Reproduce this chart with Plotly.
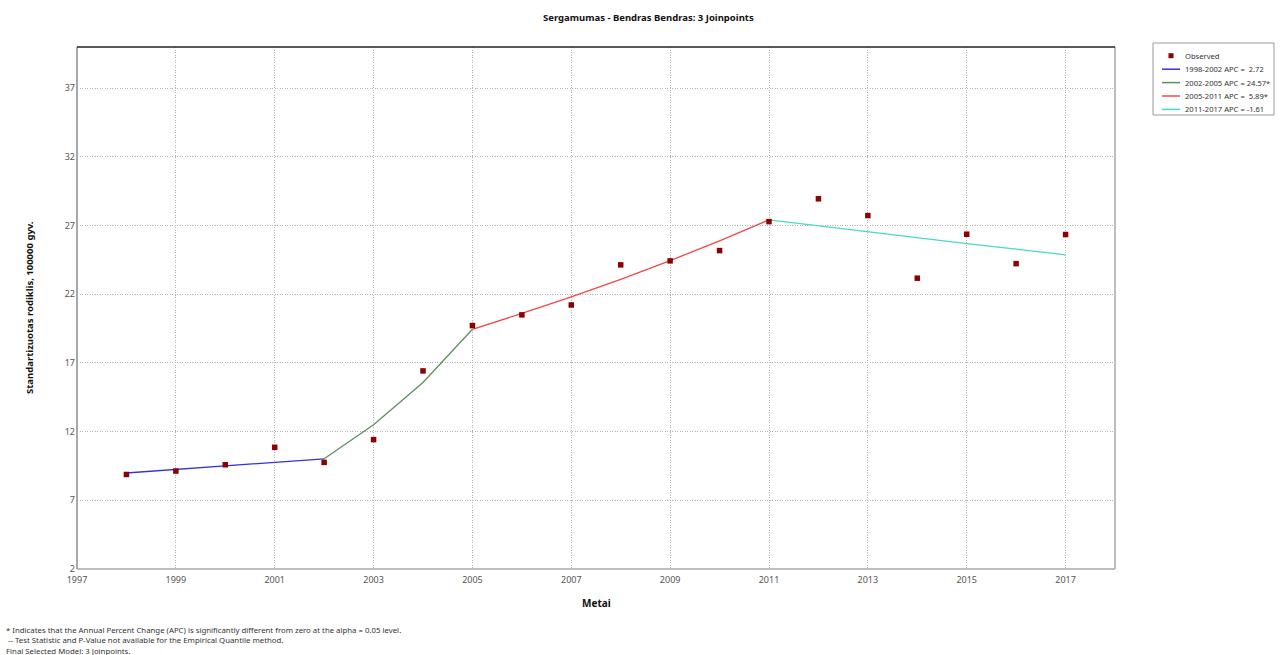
import plotly.graph_objects as go

# Observed standardized rates per 100 000 population
years = [1998, 1999, 2000, 2001, 2002, 2003, 2004, 2005, 2006, 2007,
         2008, 2009, 2010, 2011, 2012, 2013, 2014, 2015, 2016, 2017]
observed = [8.88, 9.13, 9.59, 10.86, 9.76, 11.42, 16.42, 19.72, 20.50, 21.22,
            24.14, 24.43, 25.18, 27.29, 28.95, 27.73, 23.17, 26.37, 24.23, 26.35]

# Joinpoint segment fits
seg1_years = [1998, 1999, 2000, 2001, 2002]
seg1_fit = [8.99, 9.24, 9.49, 9.75, 10.02]
seg2_years = [2002, 2003, 2004, 2005]
seg2_fit = [10.02, 12.50, 15.58, 19.45]
seg3_years = [2005, 2006, 2007, 2008, 2009, 2010, 2011]
seg3_fit = [19.45, 20.60, 21.81, 23.09, 24.45, 25.89, 27.42]
seg4_years = [2011, 2012, 2013, 2014, 2015, 2016, 2017]
seg4_fit = [27.42, 26.98, 26.54, 26.11, 25.69, 25.28, 24.87]

legend_labels = ["Observed",
                 "1998-2002 APC =&nbsp; 2.72",
                 "2002-2005 APC = 24.57*",
                 "2005-2011 APC =&nbsp; 5.89*",
                 "2011-2017 APC = -1.61"]
seg_colors = ["#3333dd", "#5f8f5f", "#f04848", "#48d8cc"]
obs_color = "#8b0000"

x_ticks = list(range(1997, 2018, 2))
y_ticks = [2, 7, 12, 17, 22, 27, 32, 37]

FONT = "Noto Sans, Open Sans, sans-serif"
W, H = 1280, 655
ML, MR, MT, MB = 77, 165, 47, 86
PW, PH = W - ML - MR, H - MT - MB


def px(x):
    return (x - ML) / PW


def py(y):
    return (H - MB - y) / PH


fig = go.Figure()
for yrs, fit, col in zip([seg1_years, seg2_years, seg3_years, seg4_years],
                         [seg1_fit, seg2_fit, seg3_fit, seg4_fit], seg_colors):
    fig.add_trace(go.Scatter(x=yrs, y=fit, mode="lines",
                             line=dict(color=col, width=1.3), showlegend=False,
                             hoverinfo="skip"))
fig.add_trace(go.Scatter(x=years, y=observed, mode="markers",
                         marker=dict(symbol="square", size=5.5, color=obs_color,
                                     line=dict(width=0)),
                         showlegend=False))

axis_common = dict(showgrid=True, gridcolor="#b4b4b4", griddash="1px,1.5px", gridwidth=1,
                   zeroline=False, showline=False, ticks="",
                   tickfont=dict(family=FONT, size=9, color="#555555"))
fig.update_xaxes(range=[1997, 2018], tickvals=x_ticks, ticklabelstandoff=4, **axis_common)
fig.update_yaxes(range=[2, 40], tickvals=y_ticks, ticklabelstandoff=1, **axis_common)

shapes = [
    # plot frame
    dict(type="line", xref="paper", yref="paper", x0=0, x1=0, y0=0, y1=1,
         line=dict(color="#a8a8a8", width=2)),
    dict(type="line", xref="paper", yref="paper", x0=0, x1=1, y0=0, y1=0,
         line=dict(color="#a8a8a8", width=1.5)),
    dict(type="line", xref="paper", yref="paper", x0=1, x1=1, y0=0, y1=1,
         line=dict(color="#a8a8a8", width=1.5)),
    dict(type="line", xref="paper", yref="paper", x0=0, x1=1, y0=1, y1=1,
         line=dict(color="#222222", width=1.5)),
    # legend box
    dict(type="rect", xref="paper", yref="paper", x0=px(1153), x1=px(1274),
         y0=py(115), y1=py(43), line=dict(color="#9a9a9a", width=1),
         fillcolor="white"),
]

annotations = []
row_y = [55.7, 69.2, 82.6, 96.0, 109.4]
# legend: observed marker
shapes.append(dict(type="rect", xref="paper", yref="paper",
                   x0=px(1168.5), x1=px(1173.5), y0=py(row_y[0] + 2.5), y1=py(row_y[0] - 2.5),
                   fillcolor=obs_color, line=dict(width=0)))
for i, col in enumerate(seg_colors):
    yy = row_y[i + 1]
    shapes.append(dict(type="line", xref="paper", yref="paper",
                       x0=px(1162), x1=px(1180), y0=py(yy), y1=py(yy),
                       line=dict(color=col, width=1.5)))
for lab, yy in zip(legend_labels, row_y):
    annotations.append(dict(text=lab, xref="paper", yref="paper",
                            x=px(1183), y=py(yy),
                            xanchor="left", yanchor="middle", showarrow=False,
                            font=dict(family=FONT, size=7.6, color="#333333")))

# titles
annotations.append(dict(text="<b>Sergamumas - Bendras Bendras: 3 Joinpoints</b>",
                        xref="paper", yref="paper", x=px(648), y=py(18),
                        xanchor="center", yanchor="middle", showarrow=False,
                        font=dict(family=FONT, size=9.5, color="#111111")))
annotations.append(dict(text="<b>Metai</b>", xref="paper", yref="paper", x=px(596), y=py(603),
                        xanchor="center", yanchor="middle", showarrow=False,
                        font=dict(family=FONT, size=10, color="#111111")))
annotations.append(dict(text="<b>Standartizuotas rodiklis, 100000 gyv.</b>",
                        xref="paper", yref="paper", x=px(29), y=py(308), textangle=-90,
                        xanchor="center", yanchor="middle", showarrow=False,
                        font=dict(family=FONT, size=9.5, color="#111111")))

notes = ["* Indicates that the Annual Percent Change (APC) is significantly different from zero at the alpha = 0.05 level.",
         "&nbsp;-- Test Statistic and P-Value not available for the Empirical Quantile method.",
         "Final Selected Model: 3 Joinpoints."]
for txt, yy in zip(notes, [629.5, 640, 650.5]):
    annotations.append(dict(text=txt, xref="paper", yref="paper", x=px(4), y=py(yy),
                            xanchor="left", yanchor="middle", showarrow=False,
                            font=dict(family=FONT, size=7.8, color="#333333")))

fig.update_layout(width=W, height=H, margin=dict(l=ML, r=MR, t=MT, b=MB),
                  paper_bgcolor="white", plot_bgcolor="white",
                  shapes=shapes, annotations=annotations, showlegend=False)

fig.write_html("out.html")
